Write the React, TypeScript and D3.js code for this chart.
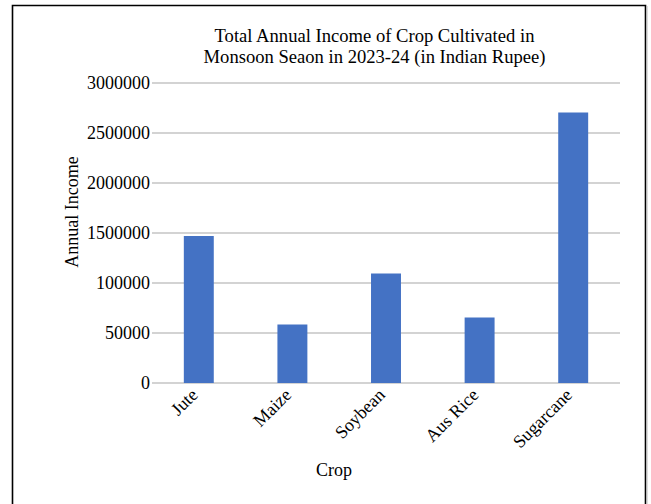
import React from "react";
import * as d3 from "d3";

// Crop income data (Indian Rupee), monsoon season 2023-24
const crops = ["Jute", "Maize", "Soybean", "Aus Rice", "Sugarcane"];
const income = [1470000, 585000, 1095000, 655000, 2705000];

// Y-axis tick values and the labels printed beside them
const tickValues = [0, 500000, 1000000, 1500000, 2000000, 2500000, 3000000];
const tickLabels = ["0", "50000", "100000", "1500000", "2000000", "2500000", "3000000"];

const titleLines = [
  "Total Annual Income of Crop Cultivated in",
  "Monsoon Seaon in 2023-24 (in Indian Rupee)",
];
const yTitle = "Annual Income";
const xTitle = "Crop";

const W = 651;
const H = 504;
const FONT = "'Liberation Serif', 'Times New Roman', serif";

export default function App() {
  const x = d3
    .scaleBand<string>()
    .domain(crops)
    .range([152, 620])
    .paddingInner(0.68)
    .paddingOuter(0.34);

  const y = d3.scaleLinear().domain([0, 3000000]).range([383, 83]);

  return (
    <svg
      width={W}
      height={H}
      style={{ position: "absolute", left: 0, top: 0, background: "#fff" }}
      fontFamily={FONT}
    >
      {/* frame */}
      <path d={`M12.5,${H} V5.5 H645.5 V${H}`} fill="none" stroke="#000" strokeWidth={1.6} />
      <line x1={647} x2={647} y1={6} y2={H} stroke="#bbb" strokeWidth={1} />

      {/* title */}
      <text x={374.5} textAnchor="middle" fontSize={18.6} fill="#000">
        {titleLines.map((t, i) => (
          <tspan key={i} x={374.5} y={42 + i * 21}>
            {t}
          </tspan>
        ))}
      </text>

      {/* gridlines and y tick labels */}
      {tickValues.map((v, i) => (
        <g key={v}>
          <line
            x1={152}
            x2={620}
            y1={y(v)}
            y2={y(v)}
            stroke="#d3d3d3"
            strokeWidth={2}
          />
          <text
            x={150}
            y={y(v)}
            dy="0.35em"
            textAnchor="end"
            fontSize={18}
            fill="#000"
          >
            {tickLabels[i]}
          </text>
        </g>
      ))}

      {/* bars */}
      {crops.map((c, i) => (
        <rect
          key={c}
          x={x(c)}
          y={y(income[i])}
          width={x.bandwidth()}
          height={y(0) - y(income[i])}
          fill="#4472c4"
        />
      ))}

      {/* x category labels */}
      {crops.map((c) => {
        const cx = (x(c) as number) + x.bandwidth() / 2;
        return (
          <text
            key={c}
            transform={`translate(${cx},${396}) rotate(-45)`}
            textAnchor="end"
            fontSize={18}
            fill="#000"
          >
            {c}
          </text>
        );
      })}

      {/* axis titles */}
      <text
        transform="translate(78,212) rotate(-90)"
        textAnchor="middle"
        fontSize={18}
        fill="#000"
      >
        {yTitle}
      </text>
      <text x={334} y={476} textAnchor="middle" fontSize={18} fill="#000">
        {xTitle}
      </text>
    </svg>
  );
}
